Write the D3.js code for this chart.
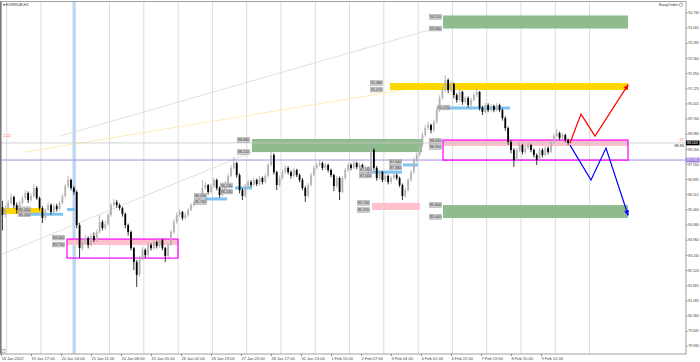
<!DOCTYPE html>
<html>
<head>
<meta charset="utf-8">
<script src="https://cdn.jsdelivr.net/npm/d3@7"></script>
<style>
body{margin:0;background:#fff}
svg{display:block}
text{font-family:"Liberation Sans",Arial,sans-serif}
</style>
</head>
<body>
<svg width="700" height="362"></svg>
<script>

// 2-hour candles, EURRUB
var firstOpen = 85.50
var closes = [85.13,85.46,85.70,85.98,85.60,85.37,85.70,85.93,86.17,85.84,
86.03,86.41,85.93,85.46,84.99,85.37,85.60,85.27,85.55,85.41,
85.70,86.03,86.50,86.79,86.41,86.22,84.65,83.56,83.85,84.04,
83.71,84.13,83.94,84.32,84.80,84.51,84.70,85.13,85.60,85.74,
85.60,85.46,85.18,84.65,84.32,83.56,82.90,82.29,83.09,83.47,
83.23,83.71,83.56,83.85,83.66,83.94,83.56,83.19,83.71,84.32,
84.80,85.13,85.27,84.99,85.13,85.37,85.60,85.70,85.84,86.03,
86.41,86.55,86.22,86.50,86.79,86.41,86.08,86.31,86.64,86.98,
87.36,87.59,87.02,86.31,86.03,86.50,86.69,86.55,86.79,86.60,
86.88,86.69,86.98,87.50,87.97,87.16,86.55,86.88,87.16,87.36,
87.16,86.98,87.26,87.02,86.79,86.41,86.03,86.55,87.02,87.36,
87.50,87.59,87.36,87.50,87.26,87.02,86.50,86.88,86.22,86.88,
87.26,87.50,87.36,87.59,87.40,87.50,87.26,87.36,87.16,88.21,
87.36,86.88,87.16,86.79,86.98,86.69,86.88,87.02,86.88,86.55,
86.03,86.31,86.79,87.16,87.73,87.97,88.44,88.92,89.25,89.39,
89.15,89.53,90.10,90.67,91.05,91.52,91.05,91.34,90.81,90.58,
90.96,90.48,90.67,90.34,90.58,90.81,90.96,90.20,90.01,90.34,
90.10,90.29,90.10,90.34,90.10,89.72,89.25,88.59,88.21,87.73,
88.21,88.44,88.11,88.30,88.44,88.21,87.97,87.73,88.21,87.97,
88.30,88.11,88.59,88.87,89.01,88.78,88.92,88.68,88.54]

var highs = [85.80,85.60,85.85,86.17,86.05,85.72,85.80,86.05,86.31,86.25,
86.15,86.60,86.50,86.00,85.55,85.45,85.72,85.68,85.65,85.66,
85.80,86.12,86.60,86.98,86.85,86.50,86.30,84.75,84.00,84.20,
84.12,84.25,84.30,84.45,85.13,84.90,84.85,85.22,85.70,85.89,
85.84,85.68,85.52,85.25,84.72,84.40,83.62,83.00,83.20,83.60,
83.55,83.85,83.80,83.95,83.92,84.06,84.00,83.62,83.80,84.42,
84.92,85.25,85.40,85.32,85.25,85.45,85.70,85.80,85.95,86.12,
86.79,86.70,86.60,86.62,86.90,86.85,86.48,86.42,86.75,87.10,
87.48,87.88,87.65,87.10,86.40,86.60,86.80,86.78,86.90,86.85,
86.98,86.95,87.08,87.60,88.21,88.05,87.22,87.00,87.28,87.48,
87.44,87.24,87.36,87.32,87.10,86.88,86.50,86.65,87.12,87.45,
87.62,87.70,87.66,87.60,87.56,87.32,87.08,86.98,86.95,86.98,
87.36,87.60,87.58,87.70,87.66,87.62,87.56,87.46,87.42,88.68,
88.30,87.45,87.26,87.22,87.08,87.05,86.98,87.12,87.10,86.95,
86.62,86.42,86.90,87.26,87.85,88.08,88.55,89.05,89.40,89.55,
89.45,89.65,90.22,90.80,91.20,91.76,91.60,91.48,91.40,90.90,
91.10,91.02,90.78,90.75,90.70,90.92,91.15,91.00,90.30,90.45,
90.42,90.40,90.36,90.45,90.40,90.18,89.80,89.32,88.68,88.30,
88.32,88.56,88.50,88.42,88.56,88.50,88.28,88.05,88.32,88.30,
88.40,88.38,88.70,88.98,89.20,89.08,89.02,88.98,88.75]

var lows = [84.40,85.00,85.35,85.62,85.45,85.20,85.30,85.62,85.85,85.70,
85.75,85.95,85.85,85.35,84.75,84.90,85.30,85.15,85.20,85.30,
85.35,85.62,85.95,86.40,86.30,86.10,84.50,83.10,83.45,83.75,
83.55,83.62,83.85,83.85,84.25,84.40,84.42,84.62,85.05,85.52,
85.48,85.35,85.05,84.50,84.15,83.45,82.52,81.72,82.20,83.00,
83.10,83.15,83.45,83.48,83.55,83.58,83.45,82.90,83.10,83.65,
84.25,84.72,85.05,84.88,84.92,85.05,85.30,85.52,85.65,85.76,
85.95,86.32,86.10,86.15,86.42,86.30,85.95,86.00,86.25,86.58,
86.90,87.30,86.90,86.15,85.84,85.95,86.42,86.45,86.48,86.50,
86.52,86.58,86.62,86.90,87.42,87.05,86.31,86.48,86.80,87.08,
87.05,86.85,86.90,86.92,86.68,86.30,85.74,85.95,86.48,86.95,
87.28,87.42,87.25,87.28,87.15,86.92,86.26,86.42,85.84,86.15,
86.80,87.18,87.25,87.30,87.30,87.32,87.15,87.18,87.05,87.10,
87.25,86.75,86.80,86.68,86.70,86.58,86.60,86.80,86.78,86.45,
85.84,85.95,86.25,86.70,87.08,87.62,87.90,88.35,88.85,89.15,
89.00,89.05,89.45,90.00,90.58,90.96,90.90,90.95,90.65,90.45,
90.50,90.35,90.40,90.22,90.25,90.50,90.72,90.08,89.86,89.95,
90.00,90.02,90.00,90.04,90.00,89.60,89.12,88.45,88.05,87.40,
87.65,88.12,88.00,88.02,88.22,88.10,87.85,87.50,87.65,87.86,
87.90,88.00,88.05,88.50,88.80,88.68,88.70,88.58,88.45]

var priceTicks = [94.730,94.005,93.285,92.560,91.850,91.125,90.415,89.700,88.980,88.260,
87.550,86.835,86.115,85.400,84.680,83.960,83.240,82.520,81.805,81.085,80.360,79.645,78.940]

var timeLabels = ["18 Jan 2022","19 Jan 17:00","20 Jan 14:00","21 Jan 11:00","24 Jan 08:00",
"25 Jan 05:00","26 Jan 02:00","26 Jan 23:00","27 Jan 20:00","28 Jan 17:00","31 Jan 13:00",
"1 Feb 10:00","2 Feb 07:00","3 Feb 04:00","4 Feb 01:00","4 Feb 22:00","7 Feb 19:00",
"8 Feb 15:00","9 Feb 12:00"]

// zones: [hourStart, hourEnd, priceTop, priceBottom]
var greenZones = [[175.7,294.7,88.73,88.11],[309.4,438.9,94.58,93.96],[309.4,438.9,85.60,84.99]]
var yellowZones = [[-0.7,29.4,85.46,85.18],[272.3,438.9,91.38,91.05]]
var pinkZones = [[46.2,123.9,83.99,83.71],[259.7,293.3,85.70,85.37],[309.4,438.9,88.68,88.40]]
var magentaBoxes = [[46.2,123.9,83.99,83.09],[309.4,438.9,88.68,87.73]]
// [hourStart, hourEnd, price]
var blueLevels = [[20.3,43.4,85.16],[46.2,51.8,85.39],[142.8,158.2,85.89],[163.8,175.7,86.41],
[259.7,280.7,87.16],[281.4,291.9,87.50],[310.8,356.3,90.20]]
// price tags [hour of right edge, price]
var tags = [[21,85.40],[21,85.16],[44.8,84.06],[44.8,83.73],[144.2,86.03],[144.2,85.74],
[162.4,86.53],[162.4,86.24],[174.3,88.68],[174.3,88.11],[259.7,87.26],[259.7,87.00],
[280.7,87.64],[280.7,87.38],[258.3,85.70],[258.3,85.37],[267.4,91.38],[267.4,91.07],
[314.3,90.22],[308.7,88.63],[308.7,88.35],[308.7,94.51],[308.7,93.96],[308.7,85.60],[308.7,85.04]]
// trend lines [[hour, price],[hour, price]]
var grayLines = [[[-0.7,83.23],[175.7,88.11]],[[41.3,88.87],[307.3,94.04]]]
var yellowLine = [[16.8,88.11],[307.3,91.34]]
var redPath = [[398.3,88.54],[406.0,89.91],[415.8,88.87],[438.9,91.29]]
var bluePath = [[398.3,88.44],[413.0,86.79],[423.5,88.30],[438.9,85.13]]
var purpleLevel = 87.733
var bidPrice = 88.543
var blueVLine = 51.1

var x = d3.scaleLinear().domain([0,378]).range([1,541])
var y = d3.scaleLinear().domain([78.94,94.73]).range([345.7,12.3])
var fmt = d3.format(".3f")

var svg = d3.select("svg")
var plotRight = 686, plotBottom = 354

var defs = svg.append("defs")
defs.append("clipPath").attr("id","plot").append("rect")
    .attr("x",0).attr("y",2).attr("width",plotRight).attr("height",plotBottom-2)
var mk = function(id, col)
{
    defs.append("marker").attr("id",id).attr("viewBox","0 0 10 10")
        .attr("refX",8).attr("refY",5).attr("markerWidth",5).attr("markerHeight",5)
        .attr("orient","auto").append("path").attr("d","M0,1 L10,5 L0,9 Z").attr("fill",col)
}
mk("arR","#ff0000")
mk("arB","#0000ff")

var g = svg.append("g").attr("clip-path","url(#plot)")

// vertical grid, one per day
g.selectAll("line.grid").data(d3.range(4,4+24*18,24)).enter().append("line")
    .attr("x1",d=>x(d)).attr("x2",d=>x(d)).attr("y1",2).attr("y2",plotBottom)
    .attr("stroke","#dcdcdc").attr("stroke-width",1)

g.append("line").attr("x1",x(blueVLine)).attr("x2",x(blueVLine)).attr("y1",2).attr("y2",plotBottom)
    .attr("stroke","#bcd7f4").attr("stroke-width",3)

var line = d3.line().x(d=>x(d[0])).y(d=>y(d[1]))
g.selectAll("path.tl").data(grayLines).enter().append("path")
    .attr("d",line).attr("fill","none").attr("stroke","#d3dccf").attr("stroke-width",0.8)
g.append("path").attr("d",line(yellowLine)).attr("fill","none").attr("stroke","#fde9a6").attr("stroke-width",0.8)

var zone = function(data, col)
{
    g.selectAll(null).data(data).enter().append("rect")
        .attr("x",d=>x(d[0])).attr("width",d=>x(d[1])-x(d[0]))
        .attr("y",d=>y(d[2])).attr("height",d=>y(d[3])-y(d[2]))
        .attr("fill",col)
}
zone(greenZones,"#8fbc8f")
zone(yellowZones,"#ffd700")
zone(pinkZones,"#ffc0cb")

g.append("line").attr("x1",0).attr("x2",plotRight).attr("y1",y(bidPrice)).attr("y2",y(bidPrice))
    .attr("stroke","#c8c8c8").attr("stroke-width",0.8)
g.append("line").attr("x1",0).attr("x2",plotRight).attr("y1",y(purpleLevel)).attr("y2",y(purpleLevel))
    .attr("stroke","#a78be0").attr("stroke-width",1)

g.selectAll(null).data(magentaBoxes).enter().append("rect")
    .attr("x",d=>x(d[0])).attr("width",d=>x(d[1])-x(d[0]))
    .attr("y",d=>y(d[2])).attr("height",d=>y(d[3])-y(d[2]))
    .attr("fill","none").attr("stroke","#ff00ff").attr("stroke-width",1.2)

g.selectAll(null).data(blueLevels).enter().append("line")
    .attr("x1",d=>x(d[0])).attr("x2",d=>x(d[1])).attr("y1",d=>y(d[2])).attr("y2",d=>y(d[2]))
    .attr("stroke","#7ec4f2").attr("stroke-width",3)

// candles
var candles = closes.map(function(c,i){
    return {h:2*i+1, o:i==0?firstOpen:closes[i-1], c:c, hi:highs[i], lo:lows[i]}
})
var cg = g.selectAll("g.c").data(candles).enter().append("g")
cg.append("line").attr("x1",d=>x(d.h)).attr("x2",d=>x(d.h))
    .attr("y1",d=>y(d.hi)).attr("y2",d=>y(d.lo))
    .attr("stroke",d=>d.c>=d.o?"#a9a9a9":"#000").attr("stroke-width",0.8)
cg.append("rect").attr("x",d=>x(d.h)-0.9).attr("width",1.8)
    .attr("y",d=>y(Math.max(d.o,d.c)))
    .attr("height",d=>Math.max(0.8,Math.abs(y(d.o)-y(d.c))))
    .attr("fill",d=>d.c>=d.o?"#b4b4b4":"#000")

// price tags
var tg = g.selectAll("g.tag").data(tags).enter().append("g")
tg.append("rect").attr("x",d=>x(d[0])-12.5).attr("y",d=>y(d[1])-2.4)
    .attr("width",12).attr("height",4.8).attr("fill","#cfcfcf").attr("stroke","#8c8c8c").attr("stroke-width",0.4)
tg.append("text").attr("x",d=>x(d[0])-6.5).attr("y",d=>y(d[1])+1.3)
    .attr("text-anchor","middle").attr("font-size",3.6).attr("fill","#333").text(d=>fmt(d[1]))

g.append("path").attr("d",line(redPath)).attr("fill","none").attr("stroke","#ff0000")
    .attr("stroke-width",1.2).attr("marker-end","url(#arR)")
g.append("path").attr("d",line(bluePath)).attr("fill","none").attr("stroke","#0000ff")
    .attr("stroke-width",1.2).attr("marker-end","url(#arB)")

// frame
svg.append("rect").attr("x",0.5).attr("y",1.5).attr("width",plotRight-0.5).attr("height",plotBottom-1.5)
    .attr("fill","none").attr("stroke","#a0a0a0").attr("stroke-width",1)
svg.append("line").attr("x1",0.8).attr("x2",0.8).attr("y1",1.5).attr("y2",plotBottom)
    .attr("stroke","#7a7a7a").attr("stroke-width",1.6)

// axes
var ya = svg.append("g").attr("transform","translate("+plotRight+",0)")
    .call(d3.axisRight(y).tickValues(priceTicks).tickFormat(fmt).tickSize(1.5).tickPadding(0.8))
ya.select(".domain").remove()
ya.selectAll("line").attr("stroke","#888")
ya.selectAll("text").attr("font-size",3.5).attr("fill","#444")

var xa = svg.append("g").attr("transform","translate(0,"+plotBottom+")")
    .call(d3.axisBottom(x).tickValues(timeLabels.map((d,i)=>i*21)).tickFormat((d,i)=>timeLabels[i]).tickSize(2).tickPadding(0.5))
xa.select(".domain").remove()
xa.selectAll("line").attr("stroke","#888")
xa.selectAll("text").attr("font-size",4).attr("fill","#444").attr("text-anchor","start").attr("dy","0.9em")

// axis boxes
var axBox = function(p, col, txt)
{
    svg.append("rect").attr("x",plotRight).attr("y",y(p)-2.4).attr("width",13.5).attr("height",4.8).attr("fill",col)
    svg.append("text").attr("x",plotRight+1).attr("y",y(p)+1.3).attr("font-size",3.5).attr("fill","#fff").text(txt)
}
axBox(bidPrice,"#000",fmt(bidPrice))
axBox(purpleLevel,"#9b7fe0",fmt(purpleLevel))

svg.append("text").attr("x",684).attr("y",y(bidPrice)-1.6).attr("text-anchor","end")
    .attr("font-size",4).attr("fill","#ff5a3c").text("21")
svg.append("text").attr("x",684).attr("y",y(bidPrice)+3.8).attr("text-anchor","end")
    .attr("font-size",3.8).attr("fill","#333").text("88.84")
svg.append("text").attr("x",3).attr("y",y(88.87)+1).attr("font-size",4).attr("fill","#ff5a3c").text("2-22")

svg.append("text").attr("x",2.5).attr("y",6.2).attr("font-size",4).attr("fill","#333").text("\u25BE EURRUB,H1")
svg.append("text").attr("x",678).attr("y",6.2).attr("text-anchor","end").attr("font-size",4).attr("fill","#333").text("EasyOrder")
svg.append("circle").attr("cx",681).attr("cy",4.8).attr("r",1.7).attr("fill","none").attr("stroke","#555").attr("stroke-width",0.5)
svg.append("rect").attr("x",2).attr("y",349.5).attr("width",3).attr("height",3).attr("fill","none").attr("stroke","#777").attr("stroke-width",0.5)

</script>
</body>
</html>
